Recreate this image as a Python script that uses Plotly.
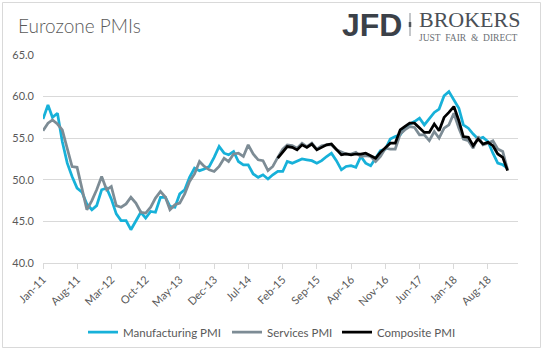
import plotly.graph_objects as go
import pandas as pd

# ---- data ----
months = pd.date_range("2011-01-01", "2018-12-01", freq="MS")
composite_months = pd.date_range("2015-01-01", "2018-12-01", freq="MS")

manufacturing = [
    57.3, 59.0, 57.5, 58.0, 54.6, 52.0, 50.4, 49.0, 48.5, 47.1, 46.4, 46.9,
    48.8, 49.0, 47.7, 45.9, 45.1, 45.1, 44.0, 45.1, 46.1, 45.4, 46.2, 46.1,
    47.9, 47.9, 46.8, 46.7, 48.3, 48.8, 50.3, 51.4, 51.1, 51.3, 51.6, 52.7,
    54.0, 53.2, 53.0, 53.4, 52.2, 51.8, 51.8, 50.7, 50.3, 50.6, 50.1, 50.6,
    51.0, 51.0, 52.2, 52.0, 52.2, 52.5, 52.4, 52.3, 52.0, 52.3, 52.8, 53.2,
    52.3, 51.2, 51.6, 51.7, 51.5, 52.8, 52.0, 51.7, 52.6, 53.5, 53.7, 54.9,
    55.2, 55.4, 56.2, 56.7, 57.0, 57.4, 56.6, 57.4, 58.1, 58.5, 60.1, 60.6,
    59.6, 58.6, 56.6, 56.2, 55.5, 54.9, 55.1, 54.6, 53.2, 52.0, 51.8, 51.4,
]
services = [
    55.9, 56.8, 57.2, 56.7, 56.0, 53.7, 51.6, 51.5, 48.8, 46.4, 47.5, 48.8,
    50.4, 48.8, 49.2, 46.9, 46.7, 47.1, 47.9, 47.2, 46.1, 46.0, 46.7, 47.8,
    48.6, 47.9, 46.4, 47.0, 47.2, 48.3, 49.8, 50.7, 52.2, 51.6, 51.2, 51.0,
    51.6, 52.6, 52.2, 53.1, 53.2, 52.8, 54.2, 53.1, 52.4, 52.3, 51.1, 51.6,
    52.7, 53.7, 54.2, 54.1, 53.8, 54.4, 54.0, 54.4, 53.7, 54.1, 54.2, 54.2,
    53.6, 53.3, 53.1, 53.1, 53.3, 52.8, 52.9, 52.8, 52.2, 52.8, 53.8, 53.7,
    53.7, 55.5, 56.0, 56.4, 56.3, 55.4, 55.4, 54.7, 55.8, 55.0, 56.2, 56.6,
    58.0, 56.2, 54.9, 54.7, 53.8, 55.2, 54.2, 54.4, 54.7, 53.7, 53.4, 51.2,
]
composite = [
    52.6, 53.3, 54.0, 53.9, 53.6, 54.2, 53.9, 54.3, 53.6, 53.9, 54.2, 54.3,
    53.6, 53.0, 53.1, 53.0, 53.1, 53.1, 53.2, 52.9, 52.6, 53.3, 53.9, 54.4,
    54.4, 56.0, 56.4, 56.8, 56.8, 56.3, 55.7, 55.7, 56.7, 55.9, 57.5, 58.1,
    58.8, 57.1, 55.2, 55.1, 54.1, 54.9, 54.3, 54.5, 54.1, 53.1, 52.7, 51.1,
]
tick_dates = pd.date_range("2011-01-01", "2018-08-01", freq="7MS")
tick_labels = [d.strftime("%b-%y") for d in tick_dates]
y_ticks = [40, 45, 50, 55, 60, 65]

# ---- styling ----
BLUE = "#17b1d9"
GREY = "#7d8c95"
BLACK = "#000000"
TXT = "#595959"
GRID = "#d9d9d9"
FONT = "Lato"

L, R, T, B = 43, 25, 55, 88
W, H = 543, 351
PW, PH = W - L - R, H - T - B


def px(x):
    return (x - L) / PW


def py(y):
    return (H - B - y) / PH


fig = go.Figure()
fig.add_trace(go.Scatter(x=months, y=manufacturing, mode="lines", name="Manufacturing PMI",
                         line=dict(color=BLUE, width=2.75), legend="legend"))
fig.add_trace(go.Scatter(x=months, y=services, mode="lines", name="Services PMI",
                         line=dict(color=GREY, width=2.75), legend="legend2"))
fig.add_trace(go.Scatter(x=composite_months, y=composite, mode="lines", name="Composite PMI",
                         line=dict(color=BLACK, width=2.75), legend="legend3"))

leg_common = dict(orientation="h", xanchor="left", yanchor="middle", y=py(332),
                  font=dict(family=FONT, size=11.5, color=TXT), itemwidth=30,
                  bgcolor="rgba(0,0,0,0)")

fig.update_layout(
    width=W, height=H,
    margin=dict(l=L, r=R, t=T, b=B, autoexpand=False),
    paper_bgcolor="white", plot_bgcolor="white",
    font=dict(family=FONT, size=11, color=TXT),
    showlegend=True,
    legend=dict(x=px(83), **leg_common),
    legend2=dict(x=px(227), **leg_common),
    legend3=dict(x=px(337), **leg_common),
    xaxis=dict(
        range=["2011-01-01", "2019-02-04"],
        tickvals=tick_dates, ticktext=tick_labels, tickangle=-45,
        showgrid=False, showline=True, linecolor=GRID, linewidth=1,
        ticks="outside", ticklen=5, tickcolor=GRID,
        tickfont=dict(family=FONT, size=11, color=TXT),
        zeroline=False, automargin=False,
    ),
    yaxis=dict(
        range=[40, 65], tickvals=y_ticks, tickformat=".1f",
        showgrid=True, gridcolor=GRID, gridwidth=1,
        showline=False, zeroline=False, ticks="",
        ticklabelstandoff=8, automargin=False,
        tickfont=dict(family=FONT, size=11, color=TXT),
    ),
)

shapes = [
    dict(type="rect", xref="paper", yref="paper", x0=px(2.5), x1=px(540.5), y0=py(347.5), y1=py(2.5),
         line=dict(color=GRID, width=1), fillcolor="rgba(0,0,0,0)", layer="below"),
    dict(type="line", xref="paper", yref="paper", x0=px(410), x1=px(410), y0=py(36), y1=py(13),
         line=dict(color="#8a8f95", width=1)),
    dict(type="line", xref="paper", yref="paper", x0=px(410), x1=px(410), y0=py(27), y1=py(22),
         line=dict(color="#50565c", width=2.5)),
]
fig.update_layout(shapes=shapes)

annotations = [
    dict(text="Eurozone PMIs", xref="paper", yref="paper", x=px(16), y=py(25.5),
         xanchor="left", yanchor="middle", showarrow=False,
         font=dict(family=FONT, size=19, color="#5a5a5a", weight=300)),
    dict(text="<b>JFD</b>", xref="paper", yref="paper", x=px(371.7), y=py(25),
         xanchor="center", yanchor="middle", showarrow=False,
         font=dict(family="Liberation Sans", size=32, color="#3b4148")),
    dict(text="BROKERS", xref="paper", yref="paper", x=px(417), y=py(20),
         xanchor="left", yanchor="middle", showarrow=False,
         font=dict(family="Liberation Serif", size=22, color="#4a5056")),
    dict(text="JUST  FAIR  &  DIRECT", xref="paper", yref="paper", x=px(417), y=py(38),
         xanchor="left", yanchor="middle", showarrow=False,
         font=dict(family="Liberation Serif", size=9.5, color="#6b7075")),
]
fig.update_layout(annotations=annotations)

fig.write_html("out.html")
